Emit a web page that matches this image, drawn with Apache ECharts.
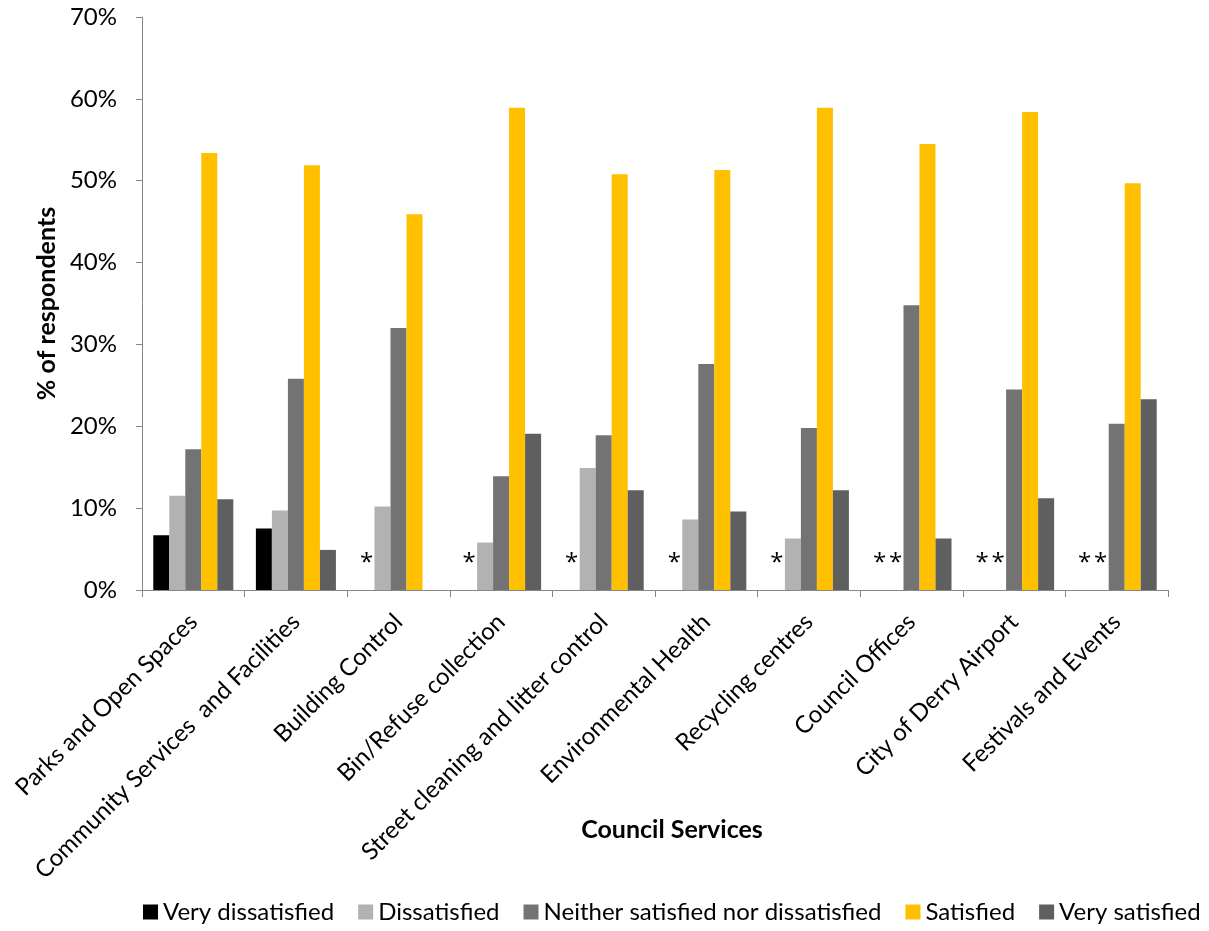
<!DOCTYPE html>
<html><head><meta charset="utf-8">
<script src="https://cdn.jsdelivr.net/npm/echarts@6/dist/echarts.min.js"></script>
<style>html,body{margin:0;padding:0;background:#fff}#c{width:1209px;height:931px}</style>
</head><body><div id="c"></div>
<script>
const categories = ["Parks and Open Spaces","Community Services  and Facilities","Building Control","Bin/Refuse collection","Street cleaning and litter control","Environmental Health","Recycling centres","Council Offices","City of Derry Airport","Festivals and Events"];
const seriesNames = ["Very dissatisfied","Dissatisfied","Neither satisfied nor dissatisfied","Satisfied","Very satisfied"];
// null values are shown with '*' (too few responses)
const veryDissatisfied = [6.7, 7.5, null, null, null, null, null, null, null, null];
const dissatisfied = [11.5, 9.7, 10.2, 5.8, 14.9, 8.6, 6.3, null, null, null];
const neither = [17.2, 25.8, 32.0, 13.9, 18.9, 27.6, 19.8, 34.8, 24.5, 20.3];
const satisfied = [53.4, 51.9, 45.9, 58.9, 50.8, 51.3, 58.9, 54.5, 58.4, 49.7];
const verySatisfied = [11.1, 4.9, null, 19.1, 12.2, 9.6, 12.2, 6.3, 11.2, 23.3];
const yTicks = [0,10,20,30,40,50,60,70];
const colors = ["#000000","#b2b2b2","#737373","#ffc000","#5f5f5f"];
const font = "Lato, 'Open Sans', sans-serif";

function mk(name, vals, color, star) {
  return {
    name, type: 'bar', barGap: '0%', barCategoryGap: '22%',
    itemStyle: {color},
    data: vals.map(v => {
      if (v === null && star) return {value: 0, label: {show: true, formatter: '*', position: 'top', distance: 15, color: '#000', fontSize: 24, fontFamily: "'Open Sans', sans-serif"}};
      return v;
    })
  };
}
const chart = echarts.init(document.getElementById('c'));
chart.setOption({
  animation: false,
  color: colors,
  grid: {left: 142, right: 41, top: 17, bottom: 341},
  legend: {
    bottom: 2, left: 138, itemWidth: 15, itemHeight: 15, itemGap: 24,
    icon: 'rect',
    textStyle: {fontSize: 24, fontFamily: font, color: '#000'}
  },
  xAxis: {
    type: 'category', data: categories,
    name: 'Council Services', nameLocation: 'middle', nameGap: 227, nameMoveOverlap: false,
    nameTextStyle: {fontSize: 25, fontWeight: 'bold', fontFamily: font, color: '#000', padding: [0, 0, 0, 34]},
    axisLine: {lineStyle: {color: '#868686'}},
    axisTick: {show: true, alignWithLabel: false, length: 7, lineStyle: {color: '#868686'}},
    axisLabel: {rotate: 45, interval: 0, fontSize: 24, fontFamily: font, color: '#000', margin: 28}
  },
  yAxis: {
    type: 'value', min: 0, max: 70, interval: 10,
    name: '% of respondents', nameLocation: 'middle', nameGap: 82, nameRotate: 90,
    nameTextStyle: {fontSize: 25, fontWeight: 'bold', fontFamily: font, color: '#000'},
    splitLine: {show: false},
    axisLine: {show: true, lineStyle: {color: '#868686'}},
    axisTick: {show: true, length: 6, lineStyle: {color: '#868686'}},
    axisLabel: {fontSize: 24, fontFamily: font, color: '#000', margin: 25,
      formatter: v => yTicks.includes(v) ? v + '%' : ''}
  },
  series: [
    mk(seriesNames[0], veryDissatisfied, colors[0], true),
    mk(seriesNames[1], dissatisfied, colors[1], true),
    mk(seriesNames[2], neither, colors[2], false),
    mk(seriesNames[3], satisfied, colors[3], false),
    mk(seriesNames[4], verySatisfied, colors[4], false)
  ]
});
</script></body></html>
